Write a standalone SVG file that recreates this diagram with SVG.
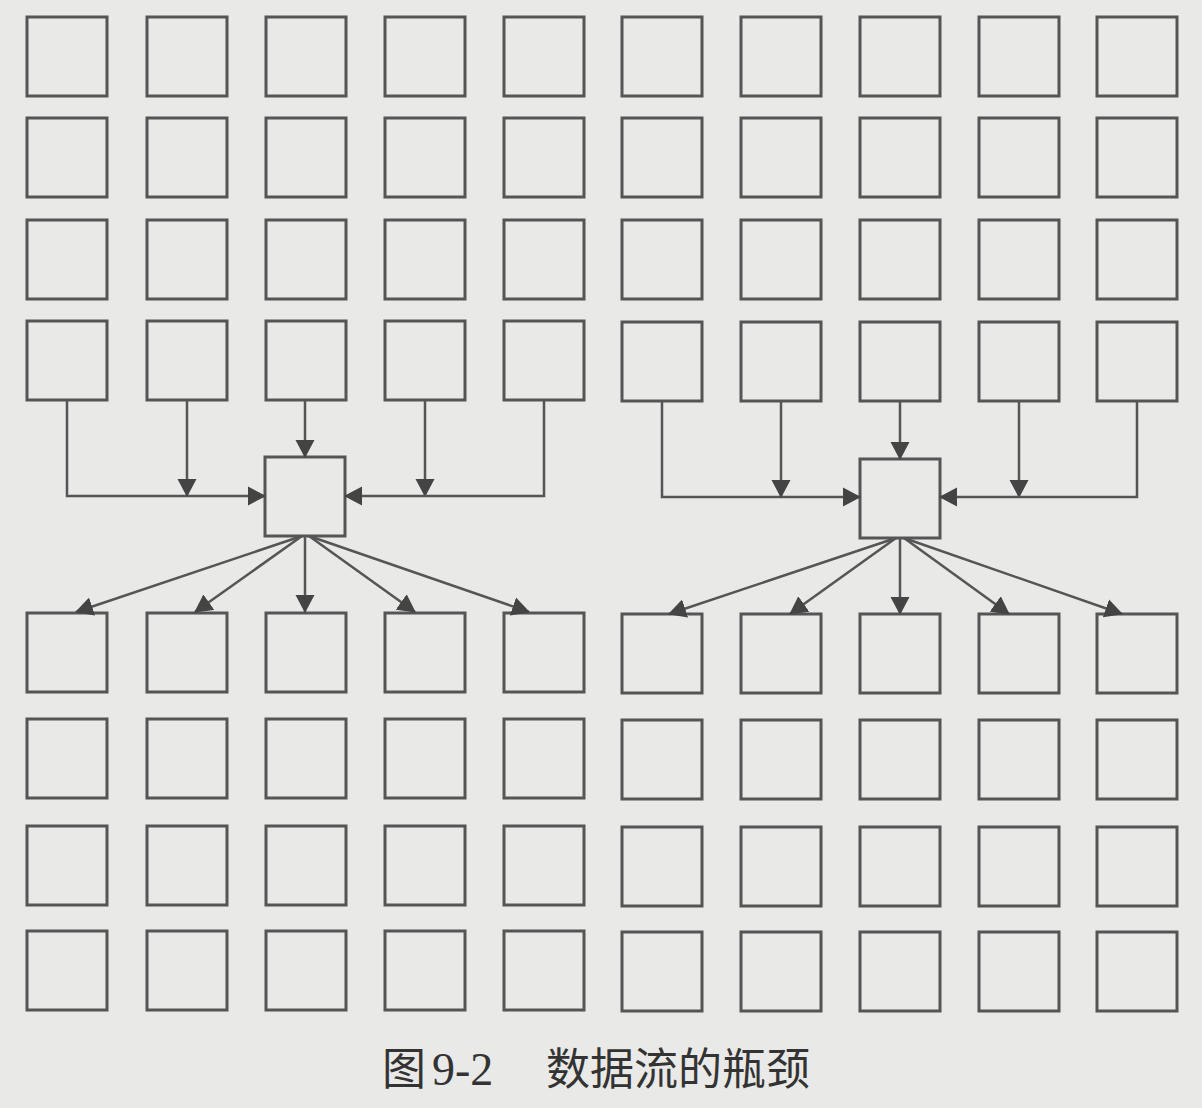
<svg xmlns="http://www.w3.org/2000/svg" width="1202" height="1108" viewBox="0 0 1202 1108">
<defs>
<style>
.b{fill:none;stroke:#555;stroke-width:3}
.c{fill:none;stroke:#555;stroke-width:2.5}
.cap{font-family:"Noto Sans CJK SC","Liberation Sans",sans-serif;font-size:44px;fill:#333}
</style>
<marker id="ah" markerUnits="strokeWidth" viewBox="0 0 18 20" markerWidth="7.2" markerHeight="8" refX="17" refY="10" orient="auto">
<path d="M0,0.5 L18,10 L0,19.5 z" fill="#444"/>
</marker>
<rect id="bx" width="80" height="79" class="b"/>
</defs>
<rect width="1202" height="1108" fill="#e9e9e8"/>
<g id="grid">
<g id="r1"><use href="#bx" x="27" y="17"/><use href="#bx" x="147" y="17"/><use href="#bx" x="266" y="17"/><use href="#bx" x="385" y="17"/><use href="#bx" x="504" y="17"/><use href="#bx" x="622" y="17"/><use href="#bx" x="741" y="17"/><use href="#bx" x="860" y="17"/><use href="#bx" x="979" y="17"/><use href="#bx" x="1097" y="17"/></g>
<g id="r2"><use href="#bx" x="27" y="118"/><use href="#bx" x="147" y="118"/><use href="#bx" x="266" y="118"/><use href="#bx" x="385" y="118"/><use href="#bx" x="504" y="118"/><use href="#bx" x="622" y="118"/><use href="#bx" x="741" y="118"/><use href="#bx" x="860" y="118"/><use href="#bx" x="979" y="118"/><use href="#bx" x="1097" y="118"/></g>
<g id="r3"><use href="#bx" x="27" y="220"/><use href="#bx" x="147" y="220"/><use href="#bx" x="266" y="220"/><use href="#bx" x="385" y="220"/><use href="#bx" x="504" y="220"/><use href="#bx" x="622" y="220"/><use href="#bx" x="741" y="220"/><use href="#bx" x="860" y="220"/><use href="#bx" x="979" y="220"/><use href="#bx" x="1097" y="220"/></g>
<g id="r4"><use href="#bx" x="27" y="321"/><use href="#bx" x="147" y="321"/><use href="#bx" x="266" y="321"/><use href="#bx" x="385" y="321"/><use href="#bx" x="504" y="321"/><use href="#bx" x="622" y="322"/><use href="#bx" x="741" y="322"/><use href="#bx" x="860" y="322"/><use href="#bx" x="979" y="322"/><use href="#bx" x="1097" y="322"/></g>
<g id="hubL"><use href="#bx" x="265" y="457"/></g>
<g id="hubR"><use href="#bx" x="860" y="459"/></g>
<g id="r5"><use href="#bx" x="27" y="613"/><use href="#bx" x="147" y="613"/><use href="#bx" x="266" y="613"/><use href="#bx" x="385" y="613"/><use href="#bx" x="504" y="613"/><use href="#bx" x="622" y="614"/><use href="#bx" x="741" y="614"/><use href="#bx" x="860" y="614"/><use href="#bx" x="979" y="614"/><use href="#bx" x="1097" y="614"/></g>
<g id="r6"><use href="#bx" x="27" y="719"/><use href="#bx" x="147" y="719"/><use href="#bx" x="266" y="719"/><use href="#bx" x="385" y="719"/><use href="#bx" x="504" y="719"/><use href="#bx" x="622" y="720"/><use href="#bx" x="741" y="720"/><use href="#bx" x="860" y="720"/><use href="#bx" x="979" y="720"/><use href="#bx" x="1097" y="720"/></g>
<g id="r7"><use href="#bx" x="27" y="826"/><use href="#bx" x="147" y="826"/><use href="#bx" x="266" y="826"/><use href="#bx" x="385" y="826"/><use href="#bx" x="504" y="826"/><use href="#bx" x="622" y="827"/><use href="#bx" x="741" y="827"/><use href="#bx" x="860" y="827"/><use href="#bx" x="979" y="827"/><use href="#bx" x="1097" y="827"/></g>
<g id="r8"><use href="#bx" x="27" y="931"/><use href="#bx" x="147" y="931"/><use href="#bx" x="266" y="931"/><use href="#bx" x="385" y="931"/><use href="#bx" x="504" y="931"/><use href="#bx" x="622" y="932"/><use href="#bx" x="741" y="932"/><use href="#bx" x="860" y="932"/><use href="#bx" x="979" y="932"/><use href="#bx" x="1097" y="932"/></g>
</g>
<g id="connectors">
<path class="c" marker-end="url(#ah)" d="M67,400 V496 H265"/>
<path class="c" marker-end="url(#ah)" d="M187,400 V496"/>
<path class="c" marker-end="url(#ah)" d="M305,400 V457"/>
<path class="c" marker-end="url(#ah)" d="M425,400 V496"/>
<path class="c" marker-end="url(#ah)" d="M544,400 V496 H345"/>
<path class="c" marker-end="url(#ah)" d="M662,401 V497 H860"/>
<path class="c" marker-end="url(#ah)" d="M781,401 V497"/>
<path class="c" marker-end="url(#ah)" d="M900,401 V459"/>
<path class="c" marker-end="url(#ah)" d="M1019,401 V497"/>
<path class="c" marker-end="url(#ah)" d="M1137,401 V497 H940"/>
<path class="c" marker-end="url(#ah)" d="M302,536 L76,612"/>
<path class="c" marker-end="url(#ah)" d="M302,536 L195,612"/>
<path class="c" marker-end="url(#ah)" d="M305,536 V612"/>
<path class="c" marker-end="url(#ah)" d="M309,536 L415,612"/>
<path class="c" marker-end="url(#ah)" d="M309,536 L529,612"/>
<path class="c" marker-end="url(#ah)" d="M896,538 L669,614"/>
<path class="c" marker-end="url(#ah)" d="M896,538 L790,614"/>
<path class="c" marker-end="url(#ah)" d="M900,538 V614"/>
<path class="c" marker-end="url(#ah)" d="M904,538 L1009,614"/>
<path class="c" marker-end="url(#ah)" d="M904,538 L1122,614"/>
</g>
<text class="cap" y="1085"><tspan x="382">图</tspan><tspan x="432" font-family="Liberation Serif, serif" font-size="46">9-2</tspan><tspan x="546">数据流的瓶颈</tspan></text>
</svg>
